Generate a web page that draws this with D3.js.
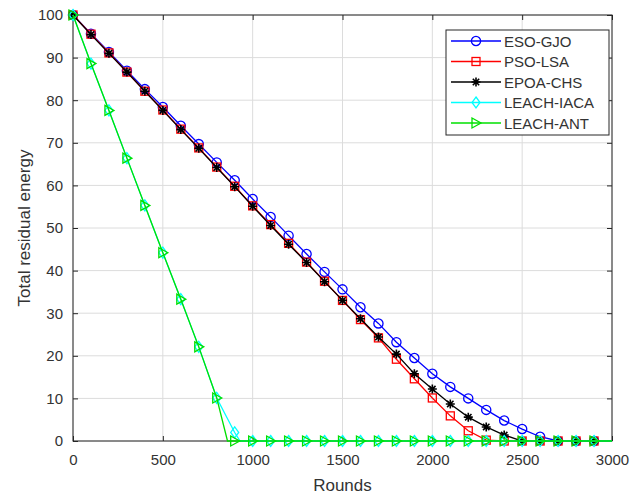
<!DOCTYPE html>
<html><head><meta charset="utf-8">
<script src="https://cdn.jsdelivr.net/npm/d3@7"></script>
<style>body{margin:0;background:#fff}svg{display:block}</style>
</head><body><svg id="c" width="632" height="499"></svg>
<script>
const rounds = [0,100,200,300,400,500,600,700,800,900,1000,1100,1200,1300,1400,1500,1600,1700,1800,1900,2000,2100,2200,2300,2400,2500,2600,2700,2800,2900,3000];
const esoGjo  = [100,95.6,91.3,86.9,82.6,78.4,74.0,69.7,65.4,61.2,56.8,52.6,48.2,43.9,39.7,35.6,31.4,27.6,23.2,19.5,15.8,12.7,10.0,7.3,4.8,2.8,1.0,0,0,0,0];
const psoLsa  = [100,95.5,91.1,86.6,82.1,77.7,73.2,68.8,64.3,59.8,55.2,50.8,46.4,42.0,37.5,33.0,28.5,24.2,19.2,14.6,10.1,5.9,2.4,0.2,0,0,0,0,0,0,0];
const epoaChs = [100,95.4,91.0,86.6,82.1,77.6,73.1,68.7,64.2,59.7,55.1,50.6,46.2,41.9,37.4,33.0,28.7,24.4,20.4,15.8,12.2,8.7,5.6,3.3,1.4,0,0,0,0,0,0];
const iacaRounds = [0,100,200,300,400,500,600,700,800,900,930,1000,1100,1200,1300,1400,1500,1600,1700,1800,1900,2000,2100,2200,2300,2400,2500,2600,2700,2800,2900,3000];
const leachIaca = [100,88.6,77.6,66.4,55.3,44.2,33.3,22.1,10.1,2.0,0,0,0,0,0,0,0,0,0,0,0,0,0,0,0,0,0,0,0,0,0,0];
const antRounds = [0,100,200,300,400,500,600,700,800,860,900,1000,1100,1200,1300,1400,1500,1600,1700,1800,1900,2000,2100,2200,2300,2400,2500,2600,2700,2800,2900,3000];
const leachAnt = [100,88.6,77.6,66.4,55.3,44.2,33.3,22.1,10.1,0,0,0,0,0,0,0,0,0,0,0,0,0,0,0,0,0,0,0,0,0,0,0];
const seriesNames = ["ESO-GJO","PSO-LSA","EPOA-CHS","LEACH-IACA","LEACH-ANT"];
const seriesColors = ["#0000ff","#ff0000","#000000","#00ffff","#00e000"];
const seriesMarkers = ["circle","square","star","diamond","triangle"];
const xTicks = [0,500,1000,1500,2000,2500,3000];
const yTicks = [0,10,20,30,40,50,60,70,80,90,100];
const xLabel = "Rounds";
const yLabel = "Total residual energy";

const series = [
  {x: rounds, y: esoGjo},
  {x: rounds, y: psoLsa},
  {x: rounds, y: epoaChs},
  {x: iacaRounds, y: leachIaca},
  {x: antRounds, y: leachAnt}
].map((s,i)=>({name:seriesNames[i], color:seriesColors[i], marker:seriesMarkers[i],
  pts:s.x.map((r,j)=>({r, v:s.y[j]}))}));

const W=632,H=499, m={l:73,r:20,t:15,b:58};
const svg=d3.select("#c");
svg.append("rect").attr("width",W).attr("height",H).attr("fill","#fff");
const x=d3.scaleLinear().domain([0,3000]).range([m.l,W-m.r]);
const y=d3.scaleLinear().domain([0,100]).range([H-m.b,m.t]);
const font="'Liberation Sans', Arial, Helvetica, sans-serif";
const axisCol="#262626";

// grid
const g=svg.append("g");
g.selectAll(".gx").data(xTicks).join("line").attr("x1",d=>x(d)).attr("x2",d=>x(d)).attr("y1",y(0)).attr("y2",y(100)).attr("stroke","#dcdcdc").attr("stroke-width",1);
g.selectAll(".gy").data(yTicks).join("line").attr("y1",d=>y(d)).attr("y2",d=>y(d)).attr("x1",x(0)).attr("x2",x(3000)).attr("stroke","#dcdcdc").attr("stroke-width",1);

// axes
function styleAxis(sel){
  sel.select(".domain").remove();
  sel.selectAll("line").attr("stroke",axisCol);
  sel.selectAll("text").attr("fill","#333").style("font-family",font).style("font-size","15px");
}
svg.append("g").attr("transform",`translate(0,${y(0)})`).call(d3.axisBottom(x).tickValues(xTicks).tickSize(-5).tickPadding(13).tickFormat(d3.format("d"))).call(styleAxis);
svg.append("g").attr("transform",`translate(${x(0)},0)`).call(d3.axisLeft(y).tickValues(yTicks).tickSize(-5).tickPadding(10).tickFormat(d3.format("d"))).call(styleAxis);
svg.append("g").attr("transform",`translate(0,${y(100)})`).call(d3.axisTop(x).tickValues(xTicks).tickSize(-5).tickFormat("")).call(styleAxis);
svg.append("g").attr("transform",`translate(${x(3000)},0)`).call(d3.axisRight(y).tickValues(yTicks).tickSize(-5).tickFormat("")).call(styleAxis);
svg.append("rect").attr("x",x(0)).attr("y",y(100)).attr("width",x(3000)-x(0)).attr("height",y(0)-y(100)).attr("fill","none").attr("stroke",axisCol).attr("stroke-width",1);

// labels
svg.append("text").attr("x",(x(0)+x(3000))/2).attr("y",H-8).attr("text-anchor","middle").attr("fill","#333").style("font-family",font).style("font-size","17px").text(xLabel);
svg.append("text").attr("transform",`translate(30,${(y(0)+y(100))/2}) rotate(-90)`).attr("text-anchor","middle").attr("fill","#333").style("font-family",font).style("font-size","17px").text(yLabel);

// markers
function drawMarker(sel,type,color){
  if(type==="circle") sel.append("circle").attr("r",4.6).attr("fill","none").attr("stroke",color).attr("stroke-width",1.3);
  else if(type==="square") sel.append("rect").attr("x",-4).attr("y",-4).attr("width",8).attr("height",8).attr("fill","none").attr("stroke",color).attr("stroke-width",1.3);
  else if(type==="star") sel.append("path").attr("d","M-4.5,0H4.5M0,-4.5V4.5M-3.2,-3.2L3.2,3.2M-3.2,3.2L3.2,-3.2").attr("stroke",color).attr("stroke-width",1.6);
  else if(type==="diamond") sel.append("path").attr("d","M0,-5.5L4,0L0,5.5L-4,0Z").attr("fill","none").attr("stroke",color).attr("stroke-width",1.3);
  else if(type==="triangle") sel.append("path").attr("d","M-4,-5L5,0L-4,5Z").attr("fill","none").attr("stroke",color).attr("stroke-width",1.3);
}
const line=d3.line().x(d=>x(d.r)).y(d=>y(d.v));
series.forEach(s=>{
  const sg=svg.append("g");
  sg.append("path").datum(s.pts).attr("d",line).attr("fill","none").attr("stroke",s.color).attr("stroke-width",1.3);
  s.pts.filter(p=>p.r%100===0 && p.r<3000).forEach(p=>{
    const mg=sg.append("g").attr("transform",`translate(${x(p.r)},${y(p.v)})`);
    drawMarker(mg,s.marker,s.color);
  });
});

// legend
const lg=svg.append("g").attr("transform","translate(446,30)");
lg.append("rect").attr("width",163).attr("height",105).attr("fill","#fff").attr("stroke",axisCol).attr("stroke-width",1);
series.forEach((s,i)=>{
  const yy=11+i*20.5;
  lg.append("line").attr("x1",5).attr("x2",55).attr("y1",yy).attr("y2",yy).attr("stroke",s.color).attr("stroke-width",1.3);
  const mg=lg.append("g").attr("transform",`translate(30,${yy})`);
  drawMarker(mg,s.marker,s.color);
  lg.append("text").attr("x",58).attr("y",yy+5.5).attr("fill","#333").style("font-family",font).style("font-size","15px").text(s.name);
});
</script></body></html>
